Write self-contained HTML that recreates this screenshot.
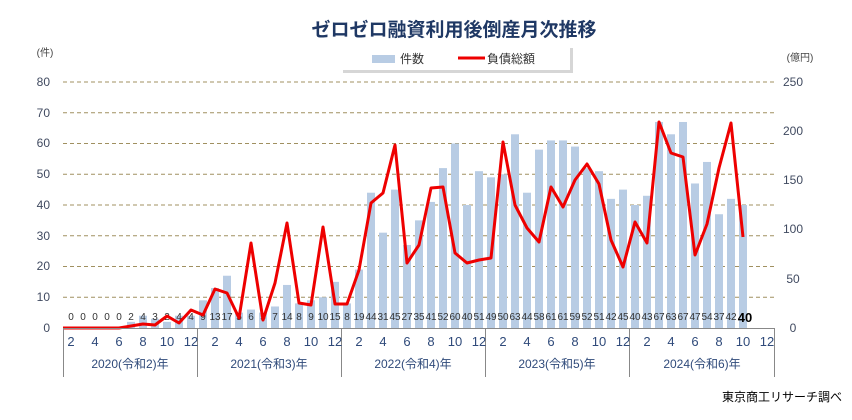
<!DOCTYPE html>
<html><head><meta charset="utf-8"><style>
body{margin:0;background:#fff;}
svg{display:block;font-family:"Liberation Sans","Noto Sans CJK JP",sans-serif;}
</style></head><body>
<svg width="852" height="420" viewBox="0 0 852 420">
<text x="454" y="36" text-anchor="middle" font-size="19" font-weight="bold" fill="#1f3864">ゼロゼロ融資利用後倒産月次推移</text>
<rect x="343" y="48" width="230" height="25" fill="#bbb" opacity="0.6"/>
<rect x="340" y="45" width="230" height="25" fill="#fff"/>
<rect x="372" y="55" width="23" height="8" fill="#b8cce4"/>
<text x="400" y="63" font-size="12" fill="#333">件数</text>
<line x1="458" y1="58" x2="485" y2="58" stroke="#e00" stroke-width="3"/>
<text x="487" y="63" font-size="12" fill="#333">負債総額</text>
<text x="45" y="56" text-anchor="middle" font-size="10" fill="#444">(件)</text>
<text x="800" y="61" text-anchor="middle" font-size="10" fill="#444">(億円)</text>
<g font-size="12" fill="#404a60" text-anchor="end">
<text x="50" y="86">80</text><text x="50" y="117">70</text><text x="50" y="147">60</text><text x="50" y="178">50</text><text x="50" y="209">40</text><text x="50" y="240">30</text><text x="50" y="270">20</text><text x="50" y="301">10</text><text x="50" y="332">0</text>
</g>
<g font-size="12" fill="#404a60" text-anchor="middle">
<text x="793" y="86">250</text><text x="793" y="135">200</text><text x="793" y="184">150</text><text x="793" y="233">100</text><text x="793" y="283">50</text><text x="793" y="332">0</text>
</g>
<g id="grid" stroke="#a09060" stroke-dasharray="4,3" stroke-width="1"></g>
<g id="bars" fill="#b8cce4"></g>
<g font-size="10" fill="#333" text-anchor="middle">
<text x="71" y="320">0</text><text x="83" y="320">0</text><text x="95" y="320">0</text><text x="107" y="320">0</text><text x="119" y="320">0</text><text x="131" y="320">2</text><text x="143" y="320">4</text><text x="155" y="320">3</text><text x="167" y="320">2</text><text x="179" y="320">4</text><text x="191" y="320">4</text>
<text x="203" y="320">9</text><text x="215" y="320">13</text><text x="227" y="320">17</text><text x="239" y="320">5</text><text x="251" y="320">6</text><text x="263" y="320">5</text><text x="275" y="320">7</text><text x="287" y="320">14</text><text x="299" y="320">8</text><text x="311" y="320">9</text><text x="323" y="320">10</text><text x="335" y="320">15</text>
<text x="347" y="320">8</text><text x="359" y="320">19</text><text x="371" y="320">44</text><text x="383" y="320">31</text><text x="395" y="320">45</text><text x="407" y="320">27</text><text x="419" y="320">35</text><text x="431" y="320">41</text><text x="443" y="320">52</text><text x="455" y="320">60</text><text x="467" y="320">40</text><text x="479" y="320">51</text>
<text x="491" y="320">49</text><text x="503" y="320">50</text><text x="515" y="320">63</text><text x="527" y="320">44</text><text x="539" y="320">58</text><text x="551" y="320">61</text><text x="563" y="320">61</text><text x="575" y="320">59</text><text x="587" y="320">52</text><text x="599" y="320">51</text><text x="611" y="320">42</text><text x="623" y="320">45</text>
<text x="635" y="320">40</text><text x="647" y="320">43</text><text x="659" y="320">67</text><text x="671" y="320">63</text><text x="683" y="320">67</text><text x="695" y="320">47</text><text x="707" y="320">54</text><text x="719" y="320">37</text><text x="731" y="320">42</text>
<text x="745" y="322" font-size="13" font-weight="bold" fill="#000">40</text>
</g>
<polyline id="line" fill="none" stroke="#e00" stroke-width="3" stroke-linejoin="round"/>
<g stroke="#888" stroke-width="1" fill="none">
<line x1="63" y1="328.5" x2="775" y2="328.5"/>
<line x1="63.5" y1="328" x2="63.5" y2="377"/>
<line x1="197.5" y1="328" x2="197.5" y2="377"/>
<line x1="341.5" y1="328" x2="341.5" y2="377"/>
<line x1="485.5" y1="328" x2="485.5" y2="377"/>
<line x1="629.5" y1="328" x2="629.5" y2="377"/>
<line x1="774.5" y1="328" x2="774.5" y2="377"/>
</g>
<g font-size="13" fill="#2f4a7a" text-anchor="middle">
<text x="71" y="346">2</text><text x="95" y="346">4</text><text x="119" y="346">6</text><text x="143" y="346">8</text><text x="167" y="346">10</text><text x="191" y="346">12</text>
<text x="215" y="346">2</text><text x="239" y="346">4</text><text x="263" y="346">6</text><text x="287" y="346">8</text><text x="311" y="346">10</text><text x="335" y="346">12</text>
<text x="359" y="346">2</text><text x="383" y="346">4</text><text x="407" y="346">6</text><text x="431" y="346">8</text><text x="455" y="346">10</text><text x="479" y="346">12</text>
<text x="503" y="346">2</text><text x="527" y="346">4</text><text x="551" y="346">6</text><text x="575" y="346">8</text><text x="599" y="346">10</text><text x="623" y="346">12</text>
<text x="647" y="346">2</text><text x="671" y="346">4</text><text x="695" y="346">6</text><text x="719" y="346">8</text><text x="743" y="346">10</text><text x="767" y="346">12</text>
</g>
<g font-size="12" fill="#2f4a7a" text-anchor="middle">
<text x="130" y="368">2020(令和2)年</text><text x="269" y="368">2021(令和3)年</text><text x="413" y="368">2022(令和4)年</text><text x="557" y="368">2023(令和5)年</text><text x="702" y="368">2024(令和6)年</text>
</g>
<text x="842" y="401" text-anchor="end" font-size="12" fill="#000">東京商工リサーチ調べ</text>
</svg>
<script>
var ns="http://www.w3.org/2000/svg";
var g=document.getElementById("grid");
for(var k=1;k<=8;k++){var y=328-k*30.75;var l=document.createElementNS(ns,"line");l.setAttribute("x1",63);l.setAttribute("x2",775);l.setAttribute("y1",y);l.setAttribute("y2",y);g.appendChild(l);}
var c=[0,0,0,0,0,2,4,3,2,4,4,9,13,17,5,6,5,7,14,8,9,10,15,8,19,44,31,45,27,35,41,52,60,40,51,49,50,63,44,58,61,61,59,52,51,42,45,40,43,67,63,67,47,54,37,42,40];
var b=document.getElementById("bars");
for(var i=0;i<c.length;i++){var x=59+12*(i+1);var h=c[i]*3.075;var r=document.createElementNS(ns,"rect");r.setAttribute("x",x-4);r.setAttribute("width",8);r.setAttribute("y",328-h);r.setAttribute("height",h);b.appendChild(r);}
var ly=[328,328,328,328,328,328,326,324,325,316,323,310,315,289,293,318,243,320,283,223,303,305,227,304,304,270,203,193,145,263,245,188,187,253,263,260,258,142,205,228,242,187,207,180,164,184,240,267,222,243,122,153,157,255,224,168,123,237];
var p=[];for(var j=0;j<ly.length;j++){var x=59+12*j;if(j==0)x=63;p.push(x+","+ly[j]);}
document.getElementById("line").setAttribute("points",p.join(" "));
</script>
</body></html>
